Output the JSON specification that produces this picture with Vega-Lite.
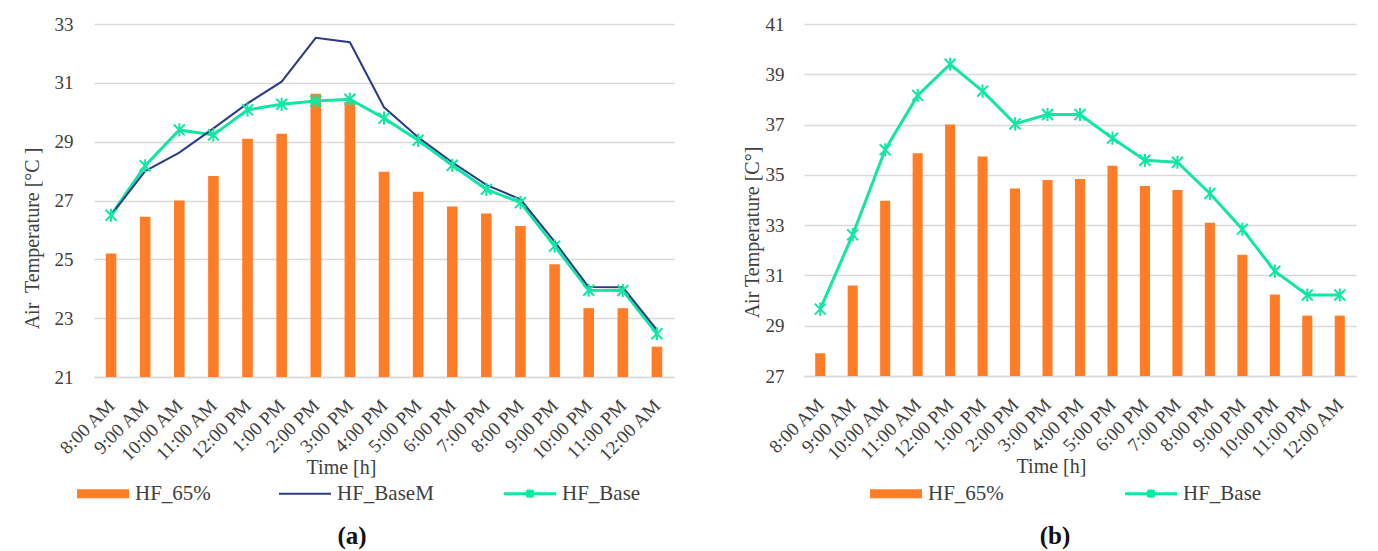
{
  "$schema": "https://vega.github.io/schema/vega-lite/v6.json",
  "padding": {"left": 22, "top": 15, "right": 5, "bottom": 5},
  "spacing": 68,
  "background": "white",
  "config": {
    "font": "Liberation Serif",
    "view": {"stroke": null},
    "axis": {
      "labelFont": "Liberation Serif",
      "labelFontSize": 19,
      "labelColor": "#404040",
      "titleFont": "Liberation Serif",
      "titleFontSize": 20,
      "titleFontWeight": "normal",
      "titleColor": "#404040",
      "ticks": false
    },
    "title": {"font": "Liberation Serif", "fontSize": 25, "fontWeight": "bold", "color": "#111111"}
  },
  "resolve": {"scale": {"color": "independent"}, "legend": {"color": "independent"}},
  "hconcat": [
    {
      "width": 580,
      "height": 353,
      "title": {"text": "(a)", "orient": "bottom", "dx": -32, "offset": 20},
      "data": {
        "values": [
          {"time": "8:00 AM", "HF_65%": 25.2, "HF_BaseM": 26.5, "HF_Base": 26.5},
          {"time": "9:00 AM", "HF_65%": 26.45, "HF_BaseM": 28.0, "HF_Base": 28.18},
          {"time": "10:00 AM", "HF_65%": 27.0, "HF_BaseM": 28.63, "HF_Base": 29.4},
          {"time": "11:00 AM", "HF_65%": 27.83, "HF_BaseM": 29.45, "HF_Base": 29.23},
          {"time": "12:00 PM", "HF_65%": 29.1, "HF_BaseM": 30.3, "HF_Base": 30.08},
          {"time": "1:00 PM", "HF_65%": 29.27, "HF_BaseM": 31.04, "HF_Base": 30.27},
          {"time": "2:00 PM", "HF_65%": 30.63, "HF_BaseM": 32.53, "HF_Base": 30.38},
          {"time": "3:00 PM", "HF_65%": 30.35, "HF_BaseM": 32.38, "HF_Base": 30.44},
          {"time": "4:00 PM", "HF_65%": 27.98, "HF_BaseM": 30.17, "HF_Base": 29.8},
          {"time": "5:00 PM", "HF_65%": 27.3, "HF_BaseM": 29.15, "HF_Base": 29.05},
          {"time": "6:00 PM", "HF_65%": 26.8, "HF_BaseM": 28.3, "HF_Base": 28.2},
          {"time": "7:00 PM", "HF_65%": 26.56, "HF_BaseM": 27.53, "HF_Base": 27.38},
          {"time": "8:00 PM", "HF_65%": 26.13, "HF_BaseM": 27.04, "HF_Base": 26.93},
          {"time": "9:00 PM", "HF_65%": 24.83, "HF_BaseM": 25.6, "HF_Base": 25.45},
          {"time": "10:00 PM", "HF_65%": 23.34, "HF_BaseM": 24.06, "HF_Base": 23.95},
          {"time": "11:00 PM", "HF_65%": 23.34, "HF_BaseM": 24.05, "HF_Base": 23.94},
          {"time": "12:00 AM", "HF_65%": 22.03, "HF_BaseM": 22.6, "HF_Base": 22.47}
        ]
      },
      "transform": [{"fold": ["HF_65%", "HF_BaseM", "HF_Base"], "as": ["series", "temp"]}],
      "encoding": {
        "x": {
          "field": "time",
          "type": "ordinal",
          "sort": ["8:00 AM", "9:00 AM", "10:00 AM", "11:00 AM", "12:00 PM", "1:00 PM", "2:00 PM", "3:00 PM", "4:00 PM", "5:00 PM", "6:00 PM", "7:00 PM", "8:00 PM", "9:00 PM", "10:00 PM", "11:00 PM", "12:00 AM"],
          "scale": {"paddingInner": 0.69, "paddingOuter": 0.345},
          "axis": {
            "title": "Time [h]",
            "titleX": 247,
            "titleY": 90,
            "titleBaseline": "middle",
            "labelAngle": -45,
            "labelPadding": 19,
            "labelOffset": -6,
            "labelOverlap": false,
            "domainColor": "#D9D9D9",
            "domainWidth": 1.5,
            "grid": false
          }
        },
        "y": {
          "field": "temp",
          "type": "quantitative",
          "scale": {"domain": [21, 33], "nice": false, "zero": false},
          "axis": {
            "title": "Air\u00a0 Temperature [°C ]",
            "titleY": 214,
            "titlePadding": 12,
            "values": [21, 23, 25, 27, 29, 31, 33],
            "labelPadding": 21,
            "labelFlush": false,
            "domain": false,
            "gridColor": "#D9D9D9",
            "gridWidth": 1.5
          }
        }
      },
      "layer": [
        {
          "transform": [{"filter": "datum.series === 'HF_65%'"}],
          "mark": {"type": "bar"},
          "encoding": {
            "y2": {"datum": 21},
            "color": {
              "field": "series",
              "type": "nominal",
              "scale": {"domain": ["HF_65%", "HF_BaseM", "HF_Base"], "range": ["#FF7D27", "#2B3B88", "#12E6A4"]},
              "legend": {
                "orient": "none",
                "legendX": -17,
                "legendY": 459,
                "direction": "horizontal",
                "title": null,
                "padding": 0,
                "labelFont": "Liberation Serif",
                "labelFontSize": 21,
                "labelColor": "#404040",
                "labelOffset": 37,
                "labelLimit": 0,
                "columnPadding": 64,
                "encode": {
                  "symbols": {
                    "update": {
                      "x": {"value": 26},
                      "size": {"value": 2704},
                      "shape": {"signal": "datum.value === 'HF_65%' ? 'M-1,-0.17H1V0.17H-1Z' : datum.value === 'HF_BaseM' ? 'M-1,0H1' : 'M-1,0H1M-0.13,-0.13L0.13,0.13M-0.13,0.13L0.13,-0.13M0,-0.16V0.16'"},
                      "fill": {"signal": "datum.value === 'HF_65%' ? '#FF7D27' : 'transparent'"},
                      "stroke": {"signal": "datum.value === 'HF_65%' ? '#FF7D27' : datum.value === 'HF_BaseM' ? '#2B3B88' : '#12E6A4'"},
                      "strokeWidth": {"signal": "datum.value === 'HF_65%' ? 0 : datum.value === 'HF_BaseM' ? 2 : 3"},
                      "opacity": {"value": 1}
                    }
                  }
                }
              }
            }
          }
        },
        {
          "transform": [{"filter": "datum.series === 'HF_Base'"}],
          "mark": {"type": "line", "strokeWidth": 3},
          "encoding": {"color": {"field": "series", "type": "nominal"}}
        },
        {
          "transform": [{"filter": "datum.series === 'HF_BaseM'"}],
          "mark": {"type": "line", "strokeWidth": 2},
          "encoding": {"color": {"field": "series", "type": "nominal"}}
        },
        {
          "transform": [{"filter": "datum.series === 'HF_Base'"}],
          "mark": {"type": "point", "shape": "M-1,-1L1,1M-1,1L1,-1M0,-1.2V1.2", "filled": false, "size": 120, "strokeWidth": 2, "color": "#12E6A4", "opacity": 1}
        }
      ]
    },
    {
      "width": 552,
      "height": 352,
      "title": {"text": "(b)", "orient": "bottom", "dx": -25, "offset": 20},
      "data": {
        "values": [
          {"time": "8:00 AM", "HF_65%": 27.9, "HF_Base": 29.66},
          {"time": "9:00 AM", "HF_65%": 30.6, "HF_Base": 32.62},
          {"time": "10:00 AM", "HF_65%": 33.97, "HF_Base": 36.0},
          {"time": "11:00 AM", "HF_65%": 35.86, "HF_Base": 38.16},
          {"time": "12:00 PM", "HF_65%": 37.0, "HF_Base": 39.4},
          {"time": "1:00 PM", "HF_65%": 35.73, "HF_Base": 38.33},
          {"time": "2:00 PM", "HF_65%": 34.46, "HF_Base": 37.03},
          {"time": "3:00 PM", "HF_65%": 34.8, "HF_Base": 37.4},
          {"time": "4:00 PM", "HF_65%": 34.84, "HF_Base": 37.4},
          {"time": "5:00 PM", "HF_65%": 35.36, "HF_Base": 36.46},
          {"time": "6:00 PM", "HF_65%": 34.56, "HF_Base": 35.58},
          {"time": "7:00 PM", "HF_65%": 34.4, "HF_Base": 35.5},
          {"time": "8:00 PM", "HF_65%": 33.1, "HF_Base": 34.26},
          {"time": "9:00 PM", "HF_65%": 31.82, "HF_Base": 32.84},
          {"time": "10:00 PM", "HF_65%": 30.24, "HF_Base": 31.17},
          {"time": "11:00 PM", "HF_65%": 29.4, "HF_Base": 30.22},
          {"time": "12:00 AM", "HF_65%": 29.4, "HF_Base": 30.22}
        ]
      },
      "transform": [{"fold": ["HF_65%", "HF_Base"], "as": ["series", "temp"]}],
      "encoding": {
        "x": {
          "field": "time",
          "type": "ordinal",
          "sort": ["8:00 AM", "9:00 AM", "10:00 AM", "11:00 AM", "12:00 PM", "1:00 PM", "2:00 PM", "3:00 PM", "4:00 PM", "5:00 PM", "6:00 PM", "7:00 PM", "8:00 PM", "9:00 PM", "10:00 PM", "11:00 PM", "12:00 AM"],
          "scale": {"paddingInner": 0.69, "paddingOuter": 0.345},
          "axis": {
            "title": "Time [h]",
            "titleX": 247,
            "titleY": 90,
            "titleBaseline": "middle",
            "labelAngle": -45,
            "labelPadding": 19,
            "labelOffset": -6,
            "labelOverlap": false,
            "domainColor": "#D9D9D9",
            "domainWidth": 1.5,
            "grid": false
          }
        },
        "y": {
          "field": "temp",
          "type": "quantitative",
          "scale": {"domain": [27, 41], "nice": false, "zero": false},
          "axis": {
            "title": "Air Temperature [C°]",
            "titleY": 208,
            "titlePadding": 3,
            "values": [27, 29, 31, 33, 35, 37, 39, 41],
            "labelPadding": 20,
            "labelFlush": false,
            "domain": false,
            "gridColor": "#D9D9D9",
            "gridWidth": 1.5
          }
        }
      },
      "layer": [
        {
          "transform": [{"filter": "datum.series === 'HF_65%'"}],
          "mark": {"type": "bar"},
          "encoding": {
            "y2": {"datum": 27},
            "color": {
              "field": "series",
              "type": "nominal",
              "scale": {"domain": ["HF_65%", "HF_Base"], "range": ["#FF7D27", "#12E6A4"]},
              "legend": {
                "orient": "none",
                "legendX": 66,
                "legendY": 459,
                "direction": "horizontal",
                "title": null,
                "padding": 0,
                "labelFont": "Liberation Serif",
                "labelFontSize": 21,
                "labelColor": "#404040",
                "labelOffset": 37,
                "labelLimit": 0,
                "columnPadding": 115,
                "encode": {
                  "symbols": {
                    "update": {
                      "x": {"value": 26},
                      "size": {"value": 2704},
                      "shape": {"signal": "datum.value === 'HF_65%' ? 'M-1,-0.17H1V0.17H-1Z' : 'M-1,0H1M-0.13,-0.13L0.13,0.13M-0.13,0.13L0.13,-0.13M0,-0.16V0.16'"},
                      "fill": {"signal": "datum.value === 'HF_65%' ? '#FF7D27' : 'transparent'"},
                      "stroke": {"signal": "datum.value === 'HF_65%' ? '#FF7D27' : '#12E6A4'"},
                      "strokeWidth": {"signal": "datum.value === 'HF_65%' ? 0 : 3"},
                      "opacity": {"value": 1}
                    }
                  }
                }
              }
            }
          }
        },
        {
          "transform": [{"filter": "datum.series === 'HF_Base'"}],
          "mark": {"type": "line", "strokeWidth": 3},
          "encoding": {"color": {"field": "series", "type": "nominal"}}
        },
        {
          "transform": [{"filter": "datum.series === 'HF_Base'"}],
          "mark": {"type": "point", "shape": "M-1,-1L1,1M-1,1L1,-1M0,-1.2V1.2", "filled": false, "size": 120, "strokeWidth": 2, "color": "#12E6A4", "opacity": 1}
        }
      ]
    }
  ]
}
